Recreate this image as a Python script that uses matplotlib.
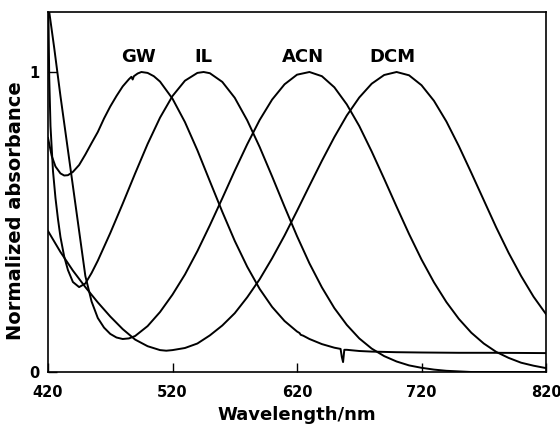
import matplotlib
matplotlib.use("Agg")
import matplotlib.pyplot as plt

# ---- data ----
gw_x = [420, 423, 426, 430, 433, 436, 440, 445, 450, 455, 460, 465, 470, 475, 480,
        485, 487, 488, 489, 492, 495, 500, 505, 510, 520, 530, 540, 550, 560, 570,
        580, 590, 600, 610, 620, 622, 623, 625, 630, 640, 650, 655, 656, 657, 658,
        660, 670, 680, 700, 720, 750, 780, 820]
gw_y = [0.78, 0.72, 0.685, 0.662, 0.655, 0.656, 0.667, 0.69, 0.725, 0.763, 0.80, 0.845,
        0.885, 0.92, 0.952, 0.976, 0.984, 0.975, 0.986, 0.995, 1.0, 0.997, 0.986, 0.968,
        0.911, 0.833, 0.739, 0.636, 0.534, 0.437, 0.351, 0.277, 0.217, 0.170, 0.135,
        0.130, 0.124, 0.121, 0.110, 0.093, 0.081, 0.077, 0.050, 0.033, 0.074, 0.074,
        0.070, 0.068, 0.066, 0.065, 0.064, 0.064, 0.063]

il_x = [420, 421, 422, 424, 426, 428, 430, 433, 436, 440, 445, 450, 455, 460, 470, 480,
        490, 500, 510, 520, 530, 540, 545, 550, 560, 570, 580, 590, 600, 610, 620, 630,
        640, 650, 660, 670, 680, 690, 700, 710, 720, 730, 740, 750, 760, 820]
il_y = [1.3, 0.98, 0.82, 0.67, 0.58, 0.51, 0.45, 0.385, 0.34, 0.30, 0.283, 0.295, 0.33,
        0.371, 0.463, 0.561, 0.662, 0.760, 0.848, 0.920, 0.971, 0.997, 1.0, 0.996, 0.967,
        0.914, 0.839, 0.750, 0.652, 0.551, 0.453, 0.362, 0.282, 0.213, 0.157, 0.112,
        0.078, 0.053, 0.035, 0.022, 0.014, 0.008, 0.004, 0.002, 0.0, 0.0]

acn_x = [420, 425, 430, 435, 440, 445, 450, 455, 460, 465, 470, 475, 480, 485, 490, 500,
         510, 520, 530, 540, 550, 560, 570, 580, 590, 600, 610, 620, 630, 640, 650, 660,
         670, 680, 690, 700, 710, 720, 730, 740, 750, 760, 770, 780, 790, 800, 810, 820]
acn_y = [1.23, 1.08, 0.92, 0.77, 0.62, 0.47, 0.32, 0.235, 0.18, 0.148, 0.127, 0.115, 0.11,
         0.112, 0.12, 0.153, 0.20, 0.258, 0.325, 0.403, 0.489, 0.579, 0.671, 0.759, 0.840,
         0.908, 0.959, 0.991, 1.0, 0.986, 0.949, 0.892, 0.820, 0.735, 0.644, 0.551, 0.460,
         0.375, 0.299, 0.233, 0.177, 0.131, 0.095, 0.067, 0.047, 0.031, 0.021, 0.013]

dcm_x = [420, 430, 440, 450, 460, 470, 480, 490, 500, 510, 515, 520, 530, 540, 550, 560,
         570, 580, 590, 600, 610, 620, 630, 640, 650, 660, 670, 680, 690, 700, 710, 720,
         730, 740, 750, 760, 770, 780, 790, 800, 810, 820]
dcm_y = [0.47, 0.40, 0.338, 0.283, 0.232, 0.185, 0.143, 0.108, 0.086, 0.073, 0.071, 0.073,
         0.08, 0.095, 0.122, 0.155, 0.196, 0.249, 0.309, 0.379, 0.455, 0.537, 0.621, 0.704,
         0.783, 0.855, 0.915, 0.961, 0.990, 1.0, 0.989, 0.956, 0.904, 0.835, 0.753, 0.664,
         0.573, 0.482, 0.397, 0.320, 0.251, 0.193]

labels = ["GW", "IL", "ACN", "DCM"]
label_x = [493, 544.5, 624.8, 697]
label_y = 1.05

x_ticks = [420, 520, 620, 720, 820]
y_ticks = [0, 1]

# ---- figure ----
fig = plt.figure(figsize=(5.6, 4.25), dpi=100)
ax = fig.add_axes([48 / 560, 1 - 372 / 425, (546 - 48) / 560, (372 - 12) / 425])

for xs, ys in [(gw_x, gw_y), (il_x, il_y), (acn_x, acn_y), (dcm_x, dcm_y)]:
    ax.plot(xs, ys, color="black", lw=1.4, solid_joinstyle="round")

for lab, lx in zip(labels, label_x):
    ax.text(lx, label_y, lab, ha="center", va="center", fontsize=13,
            fontweight="bold", color="black")

ax.set_xlim(420, 820)
ax.set_ylim(0, 1.2)
ax.set_xticks(x_ticks)
ax.set_yticks(y_ticks)
ax.set_xticklabels([str(v) for v in x_ticks], fontsize=10.5, fontweight="bold")
ax.set_yticklabels([str(v) for v in y_ticks], fontsize=10.5, fontweight="bold")
ax.tick_params(direction="in", length=6.5, width=1.0)
ax.tick_params(axis="x", pad=9.5)
ax.tick_params(axis="y", pad=6)
for s in ax.spines.values():
    s.set_linewidth(1.2)

ax.set_xlabel("Wavelength/nm", fontsize=13, fontweight="bold", labelpad=4.5)
ax.set_ylabel("Normalized absorbance", fontsize=14, fontweight="bold")
ax.yaxis.set_label_coords(-0.046, 0.447)

fig.savefig("out.png", dpi=100)
